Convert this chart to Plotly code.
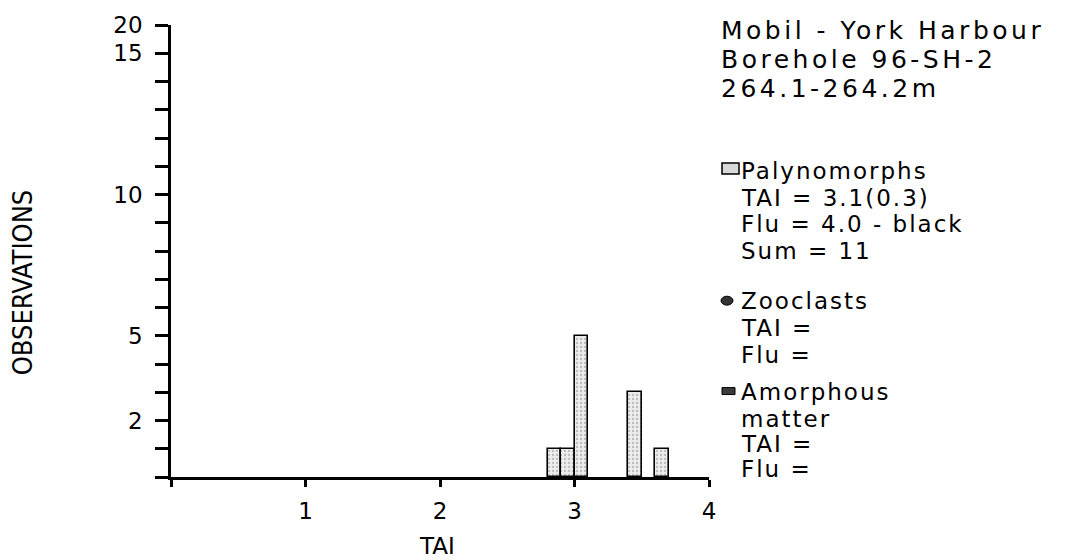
import plotly.graph_objects as go

# Histogram of thermal alteration index (TAI) readings
tai_bins = [2.85, 2.95, 3.05, 3.45, 3.65]
counts = [1, 1, 5, 3, 1]
bin_width = 0.1

y_tickvals = list(range(0, 17))
y_ticktext = ["", "", "2", "", "", "5", "", "", "", "", "10", "", "", "", "", "15", "20"]
x_tickvals = [0, 1, 2, 3, 4]
x_ticktext = ["", "1", "2", "3", "4"]

title_lines = ["Mobil - York Harbour", "Borehole 96-SH-2", "264.1-264.2m"]
palyno_lines = ["Palynomorphs", "TAI = 3.1(0.3)", "Flu = 4.0 - black", "Sum = 11"]
zoo_lines = ["Zooclasts", "TAI =", "Flu ="]
amorph_lines = ["Amorphous", "matter", "TAI =", "Flu ="]

FONT = "DejaVu Sans, Lato, sans-serif"
NARROW = "Liberation Sans Narrow, DejaVu Sans Condensed, sans-serif"

# plot area in pixels
L, R, T, B = 171, 709, 22, 477
PW, PH = R - L, B - T


def px(x):
    return (x - L) / PW


def py(y):
    return (B - y) / PH


fig = go.Figure()
fig.add_trace(go.Bar(
    x=tai_bins, y=counts, width=bin_width,
    marker=dict(
        color="#e6e6e6",
        line=dict(color="black", width=1.6),
        pattern=dict(shape=".", fgcolor="#8a8a8a", bgcolor="#ececec", size=4, solidity=0.25),
    ),
    showlegend=False, hoverinfo="skip",
))

annotations = []


def add_text(text, x, baseline, size, spacing=0, family=FONT):
    if spacing:
        text = f'<span style="letter-spacing:{spacing}px">{text}</span>'
    annotations.append(dict(
        text=text, x=px(x), y=py(baseline - 0.36 * size), xref="paper", yref="paper",
        xanchor="left", yanchor="middle", showarrow=False,
        font=dict(family=family, size=size, color="black"),
    ))


for line, base in zip(title_lines, [37, 66, 95]):
    add_text(line, 719, base, 25, spacing=3.5)

for line, base in zip(palyno_lines, [177, 204, 231, 258]):
    add_text(line, 739, base, 23, spacing=2)
for line, base in zip(zoo_lines, [308, 335, 362]):
    add_text(line, 739, base, 23, spacing=2)
for line, base in zip(amorph_lines, [400, 427, 452, 477]):
    add_text(line, 739, base, 23, spacing=2)

# axis titles
annotations.append(dict(
    text="OBSERVATIONS", x=px(22), y=py(281), xref="paper", yref="paper",
    xanchor="center", yanchor="middle", textangle=-90, showarrow=False,
    font=dict(family=NARROW, size=27, color="black"),
))
annotations.append(dict(
    text="TAI", x=px(437), y=py(546), xref="paper", yref="paper",
    xanchor="center", yanchor="middle", showarrow=False,
    font=dict(family=FONT, size=23, color="black"),
))

# legend symbols
shapes = [
    dict(type="rect", xref="paper", yref="paper", x0=px(722), x1=px(739), y0=py(172), y1=py(161),
         fillcolor="#d8d8d8", line=dict(color="black", width=1.5)),
    dict(type="circle", xref="paper", yref="paper", x0=px(721), x1=px(733), y0=py(304), y1=py(295),
         fillcolor="#333333", line=dict(color="black", width=1)),
    dict(type="rect", xref="paper", yref="paper", x0=px(722), x1=px(735), y0=py(394), y1=py(387),
         fillcolor="#3a3a3a", line=dict(color="black", width=1)),
]

fig.update_layout(
    width=1074, height=560,
    margin=dict(l=L, r=1074 - R, t=T, b=560 - B, pad=0),
    paper_bgcolor="white", plot_bgcolor="white",
    bargap=0,
    annotations=annotations,
    shapes=shapes,
    font=dict(family=FONT, color="black"),
)
fig.update_xaxes(
    range=[0, 4], showgrid=False, zeroline=False,
    showline=True, linecolor="black", linewidth=2.5,
    tickmode="array", tickvals=x_tickvals, ticktext=x_ticktext,
    ticks="outside", ticklen=7, tickwidth=2.5, tickcolor="black",
    tickfont=dict(family=FONT, size=23, color="black"),
    ticklabelstandoff=5,
)
fig.update_yaxes(
    range=[0, 16], showgrid=False, zeroline=False,
    showline=True, linecolor="black", linewidth=2.5,
    tickmode="array", tickvals=y_tickvals, ticktext=y_ticktext,
    ticks="outside", ticklen=13, tickwidth=2.5, tickcolor="black",
    tickfont=dict(family=FONT, size=23, color="black"),
    ticklabelstandoff=8,
)

fig.write_html("out.html")
